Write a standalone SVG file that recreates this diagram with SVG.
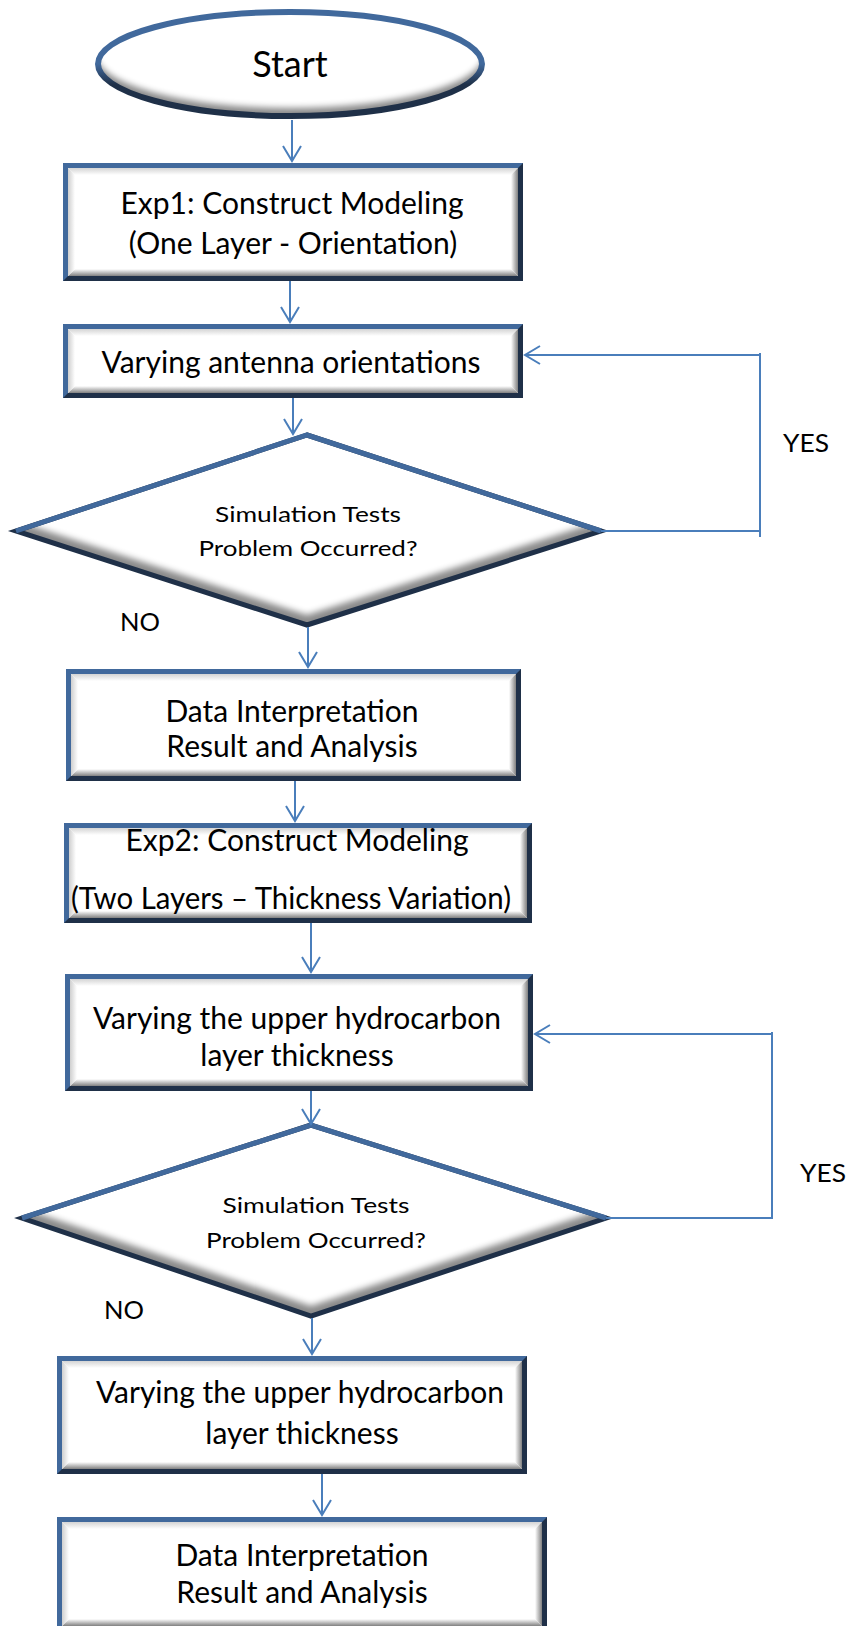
<svg xmlns="http://www.w3.org/2000/svg" width="848" height="1626" viewBox="0 0 848 1626">
<style>
.txt{font-family:Lato,"Open Sans",sans-serif;fill:#000;text-anchor:middle}
.bt{font-size:30px}
.dt{font-size:21px}
.lb{font-size:25px}
.face{fill:#fff}
.bdr{fill:none;stroke:#41699c;stroke-width:5}
.drk{fill:#1f3048}
.con{fill:none;stroke:#4a7ebb;stroke-width:2}
.gT{fill:url(#gT)}
.gB{fill:url(#gB)}
.gL{fill:url(#gL)}
.gR{fill:url(#gR)}
</style>
<defs>
<linearGradient id="gT" x1="0" y1="0" x2="0" y2="1"><stop offset="0" stop-color="#d4d4d4"/><stop offset="1" stop-color="#fff"/></linearGradient>
<linearGradient id="gB" x1="0" y1="1" x2="0" y2="0"><stop offset="0" stop-color="#808080"/><stop offset="1" stop-color="#fff"/></linearGradient>
<linearGradient id="gL" x1="0" y1="0" x2="1" y2="0"><stop offset="0" stop-color="#cfcfcf"/><stop offset="1" stop-color="#fff"/></linearGradient>
<linearGradient id="gR" x1="1" y1="0" x2="0" y2="0"><stop offset="0" stop-color="#808080"/><stop offset="1" stop-color="#fff"/></linearGradient>
<linearGradient id="ellStroke" x1="0" y1="0" x2="0" y2="1"><stop offset="0" stop-color="#41699c"/><stop offset="0.5" stop-color="#41699c"/><stop offset="0.7" stop-color="#1f3048"/><stop offset="1" stop-color="#1f3048"/></linearGradient>
<filter id="blur" x="-10%" y="-20%" width="120%" height="140%"><feGaussianBlur stdDeviation="3"/></filter>
<clipPath id="clipE"><ellipse cx="290" cy="64" rx="192" ry="52"/></clipPath>
<clipPath id="clipD1"><polygon points="307,435 16,531 307,625 601,531"/></clipPath>
<clipPath id="clipD2"><polygon points="311,1125 22,1218 311,1316 606,1218"/></clipPath>
<marker id="arr" markerUnits="userSpaceOnUse" markerWidth="22" markerHeight="22" viewBox="0 0 22 22" refX="19" refY="11" orient="auto">
<path d="M4,2 L19,11 L4,20" fill="none" stroke="#4a7ebb" stroke-width="2"/>
</marker>
</defs>

<g id="start">
<g clip-path="url(#clipE)">
<ellipse cx="290" cy="64" rx="194" ry="54" fill="#8a8a8a"/>
<ellipse cx="290" cy="54" rx="194" ry="54" fill="#fff" filter="url(#blur)"/>
</g>
<ellipse cx="290" cy="64" rx="192" ry="52" fill="none" stroke="url(#ellStroke)" stroke-width="6"/>
<text class="txt" x="290" y="77" font-size="36">Start</text>
</g>

<g id="box1">
<rect class="face" x="63" y="163" width="460" height="118"/>
<polygon class="gT" points="68,168 518,168 511,175 75,175"/>
<polygon class="gB" points="68,276 518,276 511,269 75,269"/>
<polygon class="gL" points="68,168 75,175 75,269 68,276"/>
<polygon class="gR" points="518,168 511,175 511,269 518,276"/>
<rect class="bdr" x="65.5" y="165.5" width="455" height="113"/>
<polygon class="drk" points="523,163 523,281 63,281 68,276 518,276 518,168"/>
<text class="txt bt" x="292" y="214">Exp1: Construct Modeling</text>
<text class="txt bt" x="293" y="254">(One Layer - Orientation)</text>
</g>

<g id="box2">
<rect class="face" x="63" y="324" width="460" height="74"/>
<polygon class="gT" points="68,329 518,329 511,336 75,336"/>
<polygon class="gB" points="68,393 518,393 511,386 75,386"/>
<polygon class="gL" points="68,329 75,336 75,386 68,393"/>
<polygon class="gR" points="518,329 511,336 511,386 518,393"/>
<rect class="bdr" x="65.5" y="326.5" width="455" height="69"/>
<polygon class="drk" points="523,324 523,398 63,398 68,393 518,393 518,329"/>
<text class="txt bt" x="291" y="373">Varying antenna orientations</text>
</g>

<g id="decision1">
<polygon points="307,435 16,531 307,625 601,531" fill="#fff"/>
<g clip-path="url(#clipD1)">
<polygon points="307,435 16,531 307,625 601,531" fill="#8a8a8a"/>
<polygon points="307,425 16,521 307,615 601,521" fill="#fff" filter="url(#blur)"/>
</g>
<polygon points="307,435 16,531 307,625 601,531" fill="none" stroke="#1f3048" stroke-width="5"/>
<path d="M16,531 L307,435 L601,531" fill="none" stroke="#41699c" stroke-width="5"/>
<text class="txt dt" x="308" y="522" textLength="186" lengthAdjust="spacingAndGlyphs">Simulation Tests</text>
<text class="txt dt" x="308" y="556" textLength="219" lengthAdjust="spacingAndGlyphs">Problem Occurred?</text>
</g>

<g id="box3">
<rect class="face" x="66" y="669" width="455" height="112"/>
<polygon class="gT" points="71,674 516,674 509,681 78,681"/>
<polygon class="gB" points="71,776 516,776 509,769 78,769"/>
<polygon class="gL" points="71,674 78,681 78,769 71,776"/>
<polygon class="gR" points="516,674 509,681 509,769 516,776"/>
<rect class="bdr" x="68.5" y="671.5" width="450" height="107"/>
<polygon class="drk" points="521,669 521,781 66,781 71,776 516,776 516,674"/>
<text class="txt bt" x="292" y="722">Data Interpretation</text>
<text class="txt bt" x="292" y="757">Result and Analysis</text>
</g>

<g id="box4">
<rect class="face" x="64" y="823" width="468" height="100"/>
<polygon class="gT" points="69,828 527,828 520,835 76,835"/>
<polygon class="gB" points="69,918 527,918 520,911 76,911"/>
<polygon class="gL" points="69,828 76,835 76,911 69,918"/>
<polygon class="gR" points="527,828 520,835 520,911 527,918"/>
<rect class="bdr" x="66.5" y="825.5" width="463" height="95"/>
<polygon class="drk" points="532,823 532,923 64,923 69,918 527,918 527,828"/>
<text class="txt bt" x="297" y="851">Exp2: Construct Modeling</text>
<text class="txt bt" x="291" y="909" textLength="440" lengthAdjust="spacingAndGlyphs">(Two Layers – Thickness Variation)</text>
</g>

<g id="box5">
<rect class="face" x="65" y="974" width="468" height="117"/>
<polygon class="gT" points="70,979 528,979 521,986 77,986"/>
<polygon class="gB" points="70,1086 528,1086 521,1079 77,1079"/>
<polygon class="gL" points="70,979 77,986 77,1079 70,1086"/>
<polygon class="gR" points="528,979 521,986 521,1079 528,1086"/>
<rect class="bdr" x="67.5" y="976.5" width="463" height="112"/>
<polygon class="drk" points="533,974 533,1091 65,1091 70,1086 528,1086 528,979"/>
<text class="txt bt" x="297" y="1029">Varying the upper hydrocarbon</text>
<text class="txt bt" x="297" y="1066">layer thickness</text>
</g>

<g id="decision2">
<polygon points="311,1125 22,1218 311,1316 606,1218" fill="#fff"/>
<g clip-path="url(#clipD2)">
<polygon points="311,1125 22,1218 311,1316 606,1218" fill="#8a8a8a"/>
<polygon points="311,1115 22,1208 311,1306 606,1208" fill="#fff" filter="url(#blur)"/>
</g>
<polygon points="311,1125 22,1218 311,1316 606,1218" fill="none" stroke="#1f3048" stroke-width="5"/>
<path d="M22,1218 L311,1125 L606,1218" fill="none" stroke="#41699c" stroke-width="5"/>
<text class="txt dt" x="316" y="1213" textLength="187" lengthAdjust="spacingAndGlyphs">Simulation Tests</text>
<text class="txt dt" x="316" y="1248" textLength="220" lengthAdjust="spacingAndGlyphs">Problem Occurred?</text>
</g>

<g id="box6">
<rect class="face" x="57" y="1356" width="470" height="118"/>
<polygon class="gT" points="62,1361 522,1361 515,1368 69,1368"/>
<polygon class="gB" points="62,1469 522,1469 515,1462 69,1462"/>
<polygon class="gL" points="62,1361 69,1368 69,1462 62,1469"/>
<polygon class="gR" points="522,1361 515,1368 515,1462 522,1469"/>
<rect class="bdr" x="59.5" y="1358.5" width="465" height="113"/>
<polygon class="drk" points="527,1356 527,1474 57,1474 62,1469 522,1469 522,1361"/>
<text class="txt bt" x="300" y="1403">Varying the upper hydrocarbon</text>
<text class="txt bt" x="302" y="1444">layer thickness</text>
</g>

<g id="box7">
<rect class="face" x="57" y="1517" width="490" height="114"/>
<polygon class="gT" points="62,1522 542,1522 535,1529 69,1529"/>
<polygon class="gB" points="62,1626 542,1626 535,1619 69,1619"/>
<polygon class="gL" points="62,1522 69,1529 69,1619 62,1626"/>
<polygon class="gR" points="542,1522 535,1529 535,1619 542,1626"/>
<rect class="bdr" x="59.5" y="1519.5" width="485" height="109"/>
<polygon class="drk" points="547,1517 547,1631 57,1631 62,1626 542,1626 542,1522"/>
<text class="txt bt" x="302" y="1566">Data Interpretation</text>
<text class="txt bt" x="302" y="1603">Result and Analysis</text>
</g>

<g id="labels">
<text class="txt lb" x="806" y="452" textLength="46" lengthAdjust="spacingAndGlyphs">YES</text>
<text class="txt lb" x="140" y="631" textLength="40" lengthAdjust="spacingAndGlyphs">NO</text>
<text class="txt lb" x="823" y="1182" textLength="46" lengthAdjust="spacingAndGlyphs">YES</text>
<text class="txt lb" x="124" y="1319" textLength="40" lengthAdjust="spacingAndGlyphs">NO</text>
</g>

<g id="connectors">
<line class="con" x1="292" y1="120" x2="292" y2="161" marker-end="url(#arr)"/>
<line class="con" x1="290" y1="281" x2="290" y2="322" marker-end="url(#arr)"/>
<line class="con" x1="293" y1="398" x2="293" y2="434" marker-end="url(#arr)"/>
<line class="con" x1="308" y1="627" x2="308" y2="667" marker-end="url(#arr)"/>
<line class="con" x1="295" y1="781" x2="295" y2="821" marker-end="url(#arr)"/>
<line class="con" x1="311" y1="923" x2="311" y2="972" marker-end="url(#arr)"/>
<line class="con" x1="311" y1="1091" x2="311" y2="1124" marker-end="url(#arr)"/>
<line class="con" x1="312" y1="1318" x2="312" y2="1354" marker-end="url(#arr)"/>
<line class="con" x1="322" y1="1474" x2="322" y2="1515" marker-end="url(#arr)"/>
<line class="con" x1="601" y1="531" x2="761" y2="531"/>
<line class="con" x1="760" y1="353" x2="760" y2="537"/>
<line class="con" x1="760" y1="355" x2="525" y2="355" marker-end="url(#arr)"/>
<line class="con" x1="606" y1="1218" x2="773" y2="1218"/>
<line class="con" x1="772" y1="1032" x2="772" y2="1218"/>
<line class="con" x1="772" y1="1034" x2="535" y2="1034" marker-end="url(#arr)"/>
</g>
</svg>
